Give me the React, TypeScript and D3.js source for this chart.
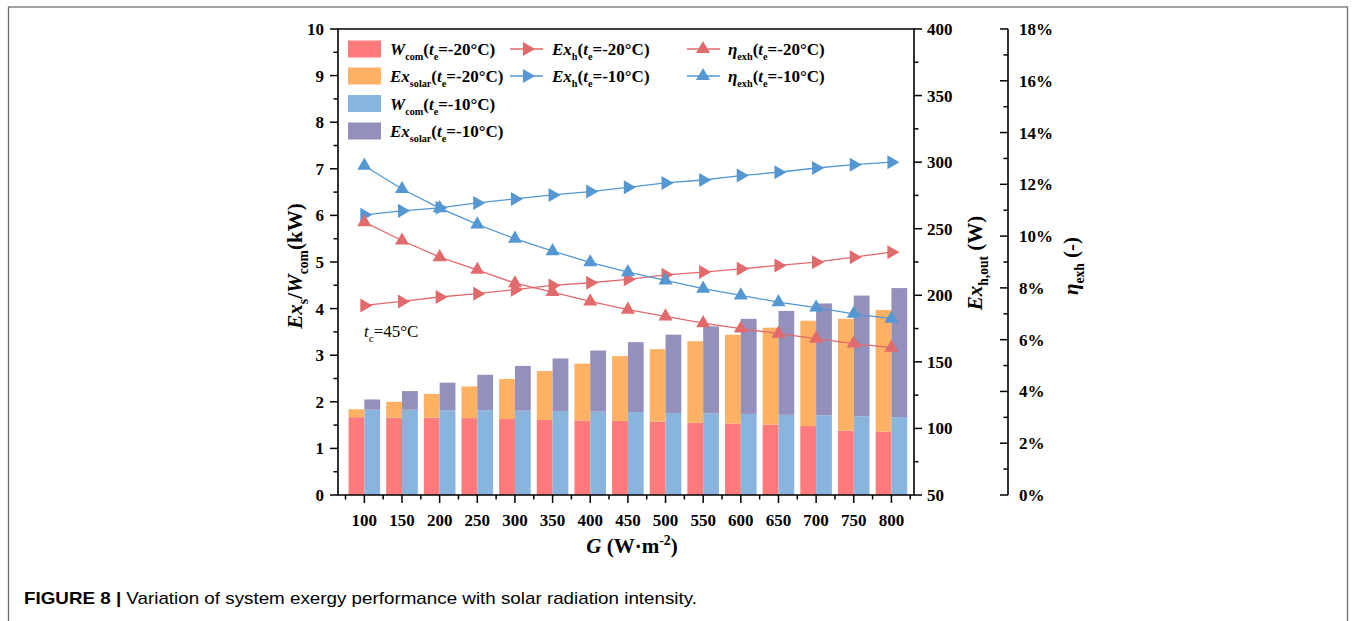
import React from 'react';
import * as d3 from 'd3';

const G = [100, 150, 200, 250, 300, 350, 400, 450, 500, 550, 600, 650, 700, 750, 800];
const wcom20 = [1.67, 1.66, 1.66, 1.65, 1.63, 1.61, 1.60, 1.59, 1.57, 1.55, 1.53, 1.51, 1.48, 1.38, 1.36];
const exsolar20 = [0.17, 0.34, 0.51, 0.68, 0.86, 1.05, 1.22, 1.39, 1.56, 1.75, 1.91, 2.08, 2.26, 2.40, 2.61];
const wcom10 = [1.83, 1.83, 1.82, 1.82, 1.81, 1.80, 1.79, 1.78, 1.76, 1.75, 1.74, 1.72, 1.71, 1.69, 1.67];
const exsolar10 = [0.22, 0.40, 0.59, 0.76, 0.96, 1.13, 1.31, 1.50, 1.68, 1.87, 2.04, 2.23, 2.40, 2.59, 2.77];
const exh20 = [192.4, 195.4, 198.7, 201.2, 204.2, 207.4, 209.4, 212.0, 215.4, 217.4, 219.9, 222.4, 224.9, 228.6, 232.4];
const exh10 = [260.4, 263.4, 265.7, 269.4, 272.4, 275.4, 277.9, 281.1, 284.4, 286.6, 289.9, 292.4, 295.6, 298.1, 300.0];
const eta20 = [10.54, 9.83, 9.19, 8.70, 8.18, 7.84, 7.48, 7.16, 6.90, 6.64, 6.43, 6.23, 6.04, 5.85, 5.69];
const eta10 = [12.72, 11.82, 11.08, 10.45, 9.90, 9.42, 8.99, 8.61, 8.29, 7.97, 7.71, 7.45, 7.24, 7.00, 6.81];

const leftTicks = [0, 1, 2, 3, 4, 5, 6, 7, 8, 9, 10];
const rightTicks = [50, 100, 150, 200, 250, 300, 350, 400];
const etaTicks = [0, 2, 4, 6, 8, 10, 12, 14, 16, 18];

const C_RED = '#FF7B7B';
const C_ORANGE = '#FEB163';
const C_BLUE = '#89B4DE';
const C_PURPLE = '#9390BC';
const L_RED = '#E06A6C';
const L_BLUE = '#5597D2';

const SERIF = '"Liberation Serif", "Times New Roman", serif';
const SANS = '"Liberation Sans", Arial, sans-serif';

const X0 = 338, X1 = 914, Y0 = 495, Y1 = 29, AX3 = 1008;
const x = d3.scaleLinear().domain([65, 830]).range([X0, X1]);
const yL = d3.scaleLinear().domain([0, 10]).range([Y0, Y1]);
const yR = d3.scaleLinear().domain([50, 400]).range([Y0, Y1]);
const yE = d3.scaleLinear().domain([0, 18]).range([Y0, Y1]);
const BW = 15.8;

type Seg = { t: string; i?: boolean; sub?: boolean; sup?: boolean };

function Rich(props: any) {
  const { segs, fs, subScale = 0.65, ...rest } = props;
  let shift = 0;
  const out = segs.map((s: Seg, k: number) => {
    const target = s.sub ? fs * 0.3 : s.sup ? -fs * 0.4 : 0;
    const dy = target - shift;
    shift = target;
    return (
      <tspan key={k} dy={dy} fontStyle={s.i ? 'italic' : 'normal'} fontSize={s.sub || s.sup ? fs * subScale : fs}>
        {s.t}
      </tspan>
    );
  });
  return <text {...rest} fontSize={fs}>{out}</text>;
}

const triUp = d3.symbol().type(d3.symbolTriangle).size(85)() as string;

function Marker({ cx, cy, color, right }: any) {
  return (
    <path d={triUp} fill={color} transform={`translate(${cx},${cy})${right ? ' rotate(90)' : ''}`} />
  );
}

const lab = (v: string, w: string, sub: string): Seg[] => [
  { t: v, i: true },
  { t: sub, sub: true },
  { t: '(' },
  { t: 't', i: true },
  { t: 'e', sub: true },
  { t: `=${w}°C)` },
];

export default function App() {
  const stack = d3.stack<any>().keys(['w', 's']);
  const s20 = stack(G.map((g, i) => ({ g, w: wcom20[i], s: exsolar20[i] })));
  const s10 = stack(G.map((g, i) => ({ g, w: wcom10[i], s: exsolar10[i] })));

  const lineR = (arr: number[]) => d3.line<number>().x((_, i) => x(G[i])).y((d) => yR(d))(arr) as string;
  const lineE = (arr: number[]) => d3.line<number>().x((_, i) => x(G[i])).y((d) => yE(d))(arr) as string;

  const xMinor = d3.range(75, 830, 50);
  const lMinor = d3.range(0.5, 10, 1);
  const rMinor = d3.range(75, 400, 50);
  const eMinor = d3.range(1, 18, 2);

  const legendBars = [
    { c: C_RED, segs: lab('W', '-20', 'com') },
    { c: C_ORANGE, segs: lab('Ex', '-20', 'solar') },
    { c: C_BLUE, segs: lab('W', '-10', 'com') },
    { c: C_PURPLE, segs: lab('Ex', '-10', 'solar') },
  ];
  const rowY = [49, 76, 103.5, 131];
  const LFS = 17;

  return (
    <div>
      <style>{`body{margin:0}`}</style>
      <svg width={1356} height={621} style={{ display: 'block', background: '#fff' }} fontFamily={SERIF}>
        <rect x={8.5} y={7} width={1339} height={700} fill="none" stroke="#6e6e6e" strokeWidth={1.3} />

        {/* bars */}
        {G.map((g, i) => (
          <g key={'b' + g}>
            <rect x={x(g) - BW} y={yL(s20[0][i][1])} width={BW} height={yL(s20[0][i][0]) - yL(s20[0][i][1])} fill={C_RED} />
            <rect x={x(g) - BW} y={yL(s20[1][i][1])} width={BW} height={yL(s20[1][i][0]) - yL(s20[1][i][1])} fill={C_ORANGE} />
            <rect x={x(g)} y={yL(s10[0][i][1])} width={BW} height={yL(s10[0][i][0]) - yL(s10[0][i][1])} fill={C_BLUE} />
            <rect x={x(g)} y={yL(s10[1][i][1])} width={BW} height={yL(s10[1][i][0]) - yL(s10[1][i][1])} fill={C_PURPLE} />
          </g>
        ))}

        {/* lines */}
        <path d={lineR(exh20)} fill="none" stroke={L_RED} strokeWidth={1.3} />
        <path d={lineR(exh10)} fill="none" stroke={L_BLUE} strokeWidth={1.3} />
        <path d={lineE(eta20)} fill="none" stroke={L_RED} strokeWidth={1.3} />
        <path d={lineE(eta10)} fill="none" stroke={L_BLUE} strokeWidth={1.3} />
        {G.map((g, i) => (
          <g key={'m' + g}>
            <Marker cx={x(g)} cy={yR(exh20[i])} color={L_RED} right />
            <Marker cx={x(g)} cy={yR(exh10[i])} color={L_BLUE} right />
            <Marker cx={x(g)} cy={yE(eta20[i])} color={L_RED} />
            <Marker cx={x(g)} cy={yE(eta10[i])} color={L_BLUE} />
          </g>
        ))}

        {/* frame */}
        <path d={`M${X0},${Y1}H${X1}V${Y0}H${X0}Z`} fill="none" stroke="#000" strokeWidth={1.6} />

        {/* x axis ticks */}
        {G.map((g) => (
          <g key={'xt' + g}>
            <line x1={x(g)} x2={x(g)} y1={Y0} y2={Y0 + 8} stroke="#000" strokeWidth={1.5} />
            <text x={x(g)} y={526} textAnchor="middle" fontSize={17} fontWeight="bold">{g}</text>
          </g>
        ))}
        {xMinor.map((g) => (
          <line key={'xm' + g} x1={x(g)} x2={x(g)} y1={Y0} y2={Y0 + 4.5} stroke="#000" strokeWidth={1.5} />
        ))}

        {/* left axis */}
        {leftTicks.map((v) => (
          <g key={'lt' + v}>
            <line x1={X0 - 8} x2={X0} y1={yL(v)} y2={yL(v)} stroke="#000" strokeWidth={1.5} />
            <text x={324} y={yL(v) + 6} textAnchor="end" fontSize={17} fontWeight="bold">{v}</text>
          </g>
        ))}
        {lMinor.map((v) => (
          <line key={'lm' + v} x1={X0 - 4.5} x2={X0} y1={yL(v)} y2={yL(v)} stroke="#000" strokeWidth={1.5} />
        ))}

        {/* right axis */}
        {rightTicks.map((v) => (
          <g key={'rt' + v}>
            <line x1={X1} x2={X1 + 8} y1={yR(v)} y2={yR(v)} stroke="#000" strokeWidth={1.5} />
            <text x={927} y={yR(v) + 6} fontSize={17} fontWeight="bold">{v}</text>
          </g>
        ))}
        {rMinor.map((v) => (
          <line key={'rm' + v} x1={X1} x2={X1 + 4.5} y1={yR(v)} y2={yR(v)} stroke="#000" strokeWidth={1.5} />
        ))}

        {/* third axis */}
        <line x1={AX3} x2={AX3} y1={Y1} y2={Y0} stroke="#000" strokeWidth={1.6} />
        {etaTicks.map((v) => (
          <g key={'et' + v}>
            <line x1={AX3 - 8} x2={AX3} y1={yE(v)} y2={yE(v)} stroke="#000" strokeWidth={1.5} />
            <text x={1019} y={yE(v) + 6} fontSize={17} fontWeight="bold">{v}%</text>
          </g>
        ))}
        {eMinor.map((v) => (
          <line key={'em' + v} x1={AX3 - 4.5} x2={AX3} y1={yE(v)} y2={yE(v)} stroke="#000" strokeWidth={1.5} />
        ))}

        {/* axis titles */}
        <Rich
          segs={[{ t: 'Ex', i: true }, { t: 's', sub: true }, { t: '/' }, { t: 'W', i: true }, { t: 'com', sub: true }, { t: '(kW)' }]}
          fs={21}
          fontWeight="bold"
          textAnchor="middle"
          transform="translate(302,266) rotate(-90)"
        />
        <Rich
          segs={[{ t: 'Ex', i: true }, { t: 'h,out', sub: true }, { t: ' (W)' }]}
          fs={21}
          fontWeight="bold"
          textAnchor="middle"
          transform="translate(982,263) rotate(-90)"
        />
        <Rich
          segs={[{ t: 'η', i: true }, { t: 'exh', sub: true }, { t: ' (-)' }]}
          fs={21}
          fontWeight="bold"
          textAnchor="middle"
          transform="translate(1078,266) rotate(-90)"
        />
        <Rich
          segs={[{ t: 'G', i: true }, { t: ' (W·m' }, { t: '-2', sup: true }, { t: ')' }]}
          fs={21}
          fontWeight="bold"
          textAnchor="middle"
          x={632}
          y={553}
        />

        <Rich segs={[{ t: 't', i: true }, { t: 'c', sub: true }, { t: '=45°C' }]} fs={17} x={364} y={337} />

        {/* legend */}
        {legendBars.map((l, k) => (
          <g key={'lb' + k}>
            <rect x={348} y={rowY[k] - 8.5} width={33} height={17} fill={l.c} />
            <Rich segs={l.segs} fs={LFS} subScale={0.6} fontWeight="bold" x={390} y={rowY[k] + 6} />
          </g>
        ))}
        {[
          { c: L_RED, segs: lab('Ex', '-20', 'h'), y: rowY[0] },
          { c: L_BLUE, segs: lab('Ex', '-10', 'h'), y: rowY[1] },
        ].map((l, k) => (
          <g key={'ll' + k}>
            <line x1={510} x2={543} y1={l.y} y2={l.y} stroke={l.c} strokeWidth={1.3} />
            <Marker cx={527} cy={l.y} color={l.c} right />
            <Rich segs={l.segs} fs={LFS} subScale={0.6} fontWeight="bold" x={552} y={l.y + 6} />
          </g>
        ))}
        {[
          { c: L_RED, segs: lab('η', '-20', 'exh'), y: rowY[0] },
          { c: L_BLUE, segs: lab('η', '-10', 'exh'), y: rowY[1] },
        ].map((l, k) => (
          <g key={'le' + k}>
            <line x1={687} x2={720} y1={l.y} y2={l.y} stroke={l.c} strokeWidth={1.3} />
            <Marker cx={703} cy={l.y} color={l.c} />
            <Rich segs={l.segs} fs={LFS} subScale={0.6} fontWeight="bold" x={728} y={l.y + 6} />
          </g>
        ))}

        {/* caption */}
        <text x={24} y={604} fontFamily={SANS} fontSize={17} textLength={673} lengthAdjust="spacingAndGlyphs">
          <tspan fontWeight="bold">FIGURE 8 |</tspan>
          <tspan> Variation of system exergy performance with solar radiation intensity.</tspan>
        </text>
      </svg>
    </div>
  );
}
